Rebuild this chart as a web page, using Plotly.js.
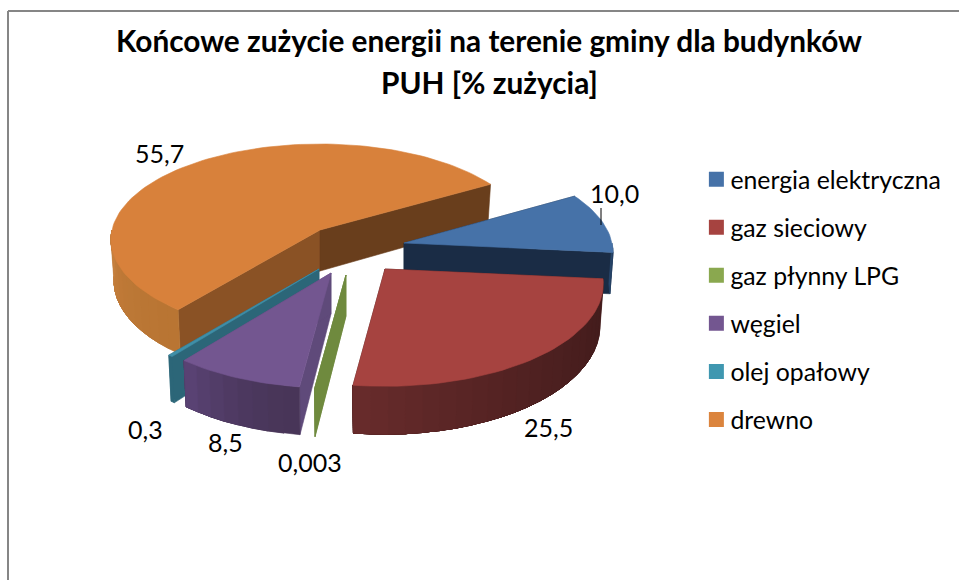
<!DOCTYPE html>
<html>
<head>
<meta charset="utf-8">
<script src="https://cdn.plot.ly/plotly-3.0.1.min.js"></script>
<style>html,body{margin:0;padding:0;background:#fff}</style>
</head>
<body>
<div id="chart" style="width:959px;height:580px"></div>
<script>
// ---- data ----
const categories = ["energia elektryczna","gaz sieciowy","gaz płynny LPG","węgiel","olej opałowy","drewno"];
const values = [10.0,25.5,0.003,8.5,0.3,55.7];
const valueLabels = ["10,0","25,5","0,003","8,5","0,3","55,7"];
const titleLines = ["Końcowe zużycie energii na terenie gminy dla budynków","PUH [% zużycia]"];

// ---- styling / 3-D projection ----
const legendColors = ["#4672A8","#A64340","#8AA84F","#735690","#3F97B0","#DB843D"];
const topColors    = ["#4672A8","#A64340","#6F8A3E","#735690","#3F8FA8","#D8813B"];
const startFaces   = ["#1A2C45","#431C1C","#6F8A3E","#5F4A7A","#2C6678","#8A5225"];
const endFaces     = ["#1A2C45","#431C1C","#6F8A3E","#5F4A7A","#2C6678","#693E1C"];
const wallFrom     = ["#2A4A70","#431C1C","#6F8A3E","#483558","#2C6678","#B97533"];
const wallTo       = ["#1A2C45","#6A2C2C","#6F8A3E","#5D4579","#2C6678","#C8813F"];
const sliceOrigin  = [[404,243],[385,269],[346,275],[331,273],[319,269],[320,230]];
const sliceR       = [208,216,212,212,212,208];
const sliceTilt    = [97,100.4,98.4,98.4,98.4,94.6];
const slicePersp   = [0.10,0.144,0.144,0.144,0.144,0.10];
const drawOrder    = [5,0,4,2,3,1];
const labelAt      = [[614,193],[548,427],[310,462],[225,442],[145,429],[159,153]];
const depth = 41, squeeze = 0.985, firstAngle = 59.5;

const rad = d => d*Math.PI/180;
const hex = c => [1,3,5].map(i=>parseInt(c.substr(i,2),16));
const mix = (a,b,t) => { const A=hex(a),B=hex(b); return "rgb("+A.map((v,i)=>Math.round(v+(B[i]-v)*t)).join(",")+")"; };
const total = values.reduce((a,b)=>a+b,0);

function proj(th,i){
  const s = 1/(1+slicePersp[i]*Math.cos(rad(th)));
  return {x:sliceR[i]*Math.sin(rad(th))*s, y:-sliceTilt[i]*Math.cos(rad(th))*s, s};
}
function topPt(th,i){ const o=sliceOrigin[i],p=proj(th,i); return [o[0]+p.x,o[1]+p.y]; }
function lowPt(th,i){ const o=sliceOrigin[i],p=proj(th,i); return [o[0]+p.x*squeeze,o[1]+p.y+depth*p.s]; }
function poly(pts,color,label){
  return {type:"scatter",mode:"lines",x:pts.map(p=>p[0]).concat(pts[0][0]),y:pts.map(p=>p[1]).concat(pts[0][1]),
    fill:"toself",fillcolor:color,line:{color:color,width:0.6},showlegend:false,hoverinfo:"text",text:label,legendgroup:label};
}

const angles=[]; let cursor=firstAngle;
values.forEach(v=>{ const b=cursor+v/total*360; angles.push([cursor,b]); cursor=b; });

const traces=[];
drawOrder.forEach(i=>{
  const o=sliceOrigin[i],[a0,a1]=angles[i],n=categories[i];
  const lowO=[o[0],o[1]+depth];
  traces.push(poly([o,topPt(a0,i),lowPt(a0,i),lowO],startFaces[i],n));
  traces.push(poly([o,topPt(a1,i),lowPt(a1,i),lowO],endFaces[i],n));
  const w0=Math.max(a0,90),w1=Math.min(a1,270);
  if(w1>w0){
    const steps=Math.max(1,Math.ceil((w1-w0)/4));
    // each band reaches to the end of the wall and the next one paints over it, so no seams show
    for(let k=0;k<steps;k++){
      const t=Math.pow(k/steps,1.6);
      const upper=[],lower=[];
      for(let j=k;j<=steps;j++){
        const th=w0+(w1-w0)*j/steps;
        upper.push(topPt(th,i)); lower.unshift(lowPt(th,i));
      }
      traces.push(poly(upper.concat(lower),mix(wallFrom[i],wallTo[i],t),n));
    }
  }
  const rim=[o],steps=Math.max(1,Math.ceil((a1-a0)/2));
  for(let k=0;k<=steps;k++) rim.push(topPt(a0+(a1-a0)*k/steps,i));
  traces.push(poly(rim,topColors[i],n));
});
// legend entries
categories.forEach((n,i)=>{
  traces.push({type:"scatter",mode:"markers",x:[null],y:[null],name:n,legendgroup:n,
    marker:{symbol:"square",size:15,color:legendColors[i]},hoverinfo:"skip"});
});

const FONT="Lato, 'Open Sans', sans-serif";
const annotations=values.map((v,i)=>({xref:"x",yref:"y",x:labelAt[i][0],y:labelAt[i][1],text:valueLabels[i],
  showarrow:false,font:{family:FONT,size:25,color:"#000"},xanchor:"center",yanchor:"middle"}));
annotations.push({xref:"x",yref:"y",x:489,y:82,text:titleLines[1],showarrow:false,xanchor:"center",yanchor:"middle",
  font:{family:FONT,size:29.8,color:"#000",weight:"bold"}});

const layout={
  width:959,height:580,margin:{l:0,r:0,t:0,b:0},paper_bgcolor:"#fff",plot_bgcolor:"#fff",
  xaxis:{range:[0,959],visible:false,fixedrange:true},
  yaxis:{range:[580,0],visible:false,fixedrange:true},
  title:{text:titleLines[0],x:489/959,xanchor:"center",y:0.9276,yanchor:"middle",
    font:{family:FONT,size:29.8,color:"#000",weight:"bold"}},
  showlegend:true,
  legend:{x:0.7199,y:0.73,xanchor:"left",yanchor:"top",font:{family:FONT,size:24.8,color:"#000"},
    traceorder:"grouped",tracegroupgap:12.8,bgcolor:"rgba(0,0,0,0)",itemclick:false,itemdoubleclick:false},
  annotations,
  shapes:[
    {type:"line",xref:"x",yref:"y",x0:8,x1:8,y0:11,y1:580,line:{color:"#868686",width:2}},
    {type:"line",xref:"x",yref:"y",x0:8,x1:959,y0:11,y1:11,line:{color:"#868686",width:2}},
    {type:"line",xref:"x",yref:"y",x0:601,x1:601,y0:208,y1:225,line:{color:"#000",width:1}}
  ]
};
Plotly.newPlot("chart",traces,layout,{displayModeBar:false,staticPlot:true}).then(()=>{
  document.querySelectorAll("#chart .legend .legendpoints").forEach(g=>g.setAttribute("transform","translate(6,0)"));
});
</script>
</body>
</html>
